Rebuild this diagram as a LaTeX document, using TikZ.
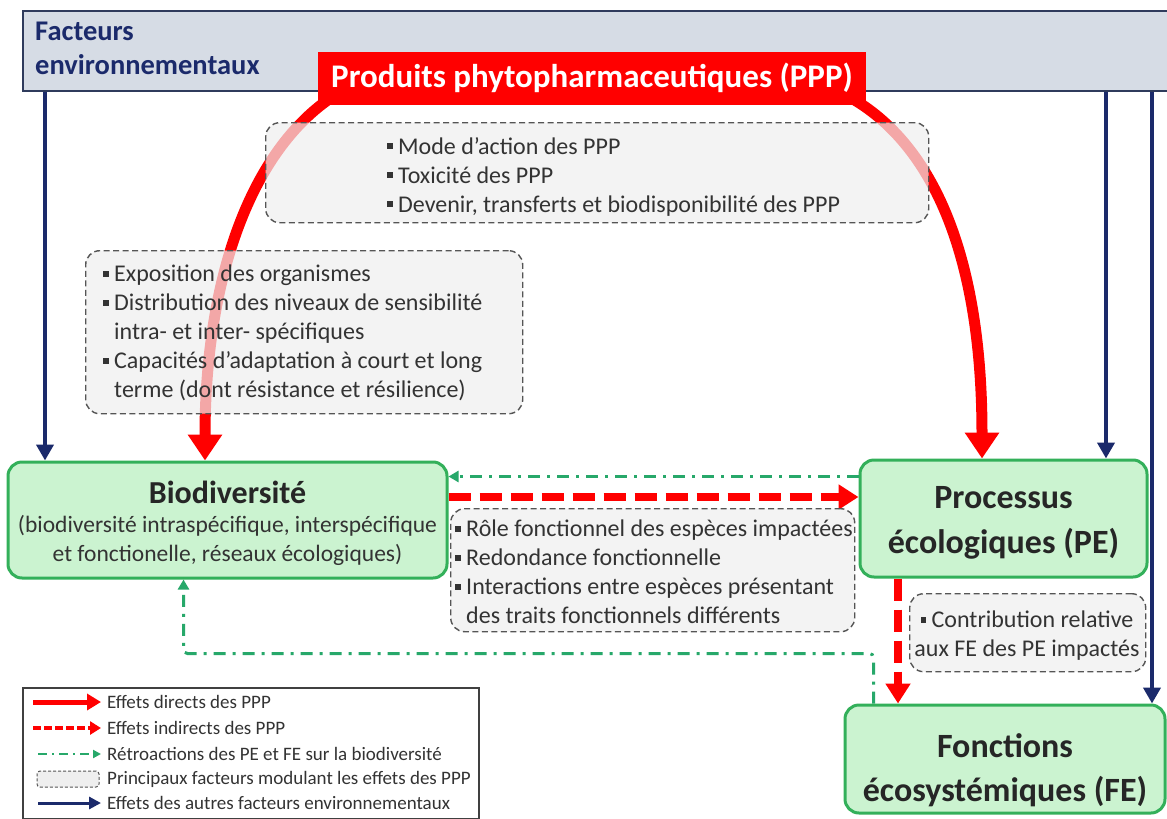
\documentclass[tikz,border=0pt]{standalone}
\usepackage{fontspec}
\setmainfont{Carlito}
\usetikzlibrary{arrows.meta,calc}
\definecolor{navy}{HTML}{1B2A6B}
\definecolor{pppred}{HTML}{FF0000}
\definecolor{gbord}{HTML}{33B05A}
\definecolor{gfill}{HTML}{CBF3D0}
\definecolor{fbgreen}{HTML}{27A86A}
\definecolor{envfill}{HTML}{D6DCE5}
\definecolor{envbord}{HTML}{2F3B5C}
\definecolor{mgray}{HTML}{555555}
\definecolor{mfill}{HTML}{EFEFEF}
\definecolor{txt}{HTML}{333333}
\newcommand\bsq{\makebox[11pt][l]{\rule[0.22em]{0.24em}{0.24em}}}
\newcommand\bcont{\hspace*{11pt}}
\tikzset{
  greenbox/.style={draw=gbord, line width=3pt, fill=gfill, rounded corners=14pt},
  modbox/.style={draw=mgray, dash pattern=on 6pt off 3.5pt, line width=1.4pt, fill=mfill, fill opacity=0.7, rounded corners=14pt},
  modtext/.style={align=left, text=txt, font=\fontsize{24}{29}\selectfont, inner sep=0pt, anchor=north west},
  navyarrow/.style={draw=navy, line width=4.5pt, -{Triangle[width=17pt,length=16pt]}},
  directarrow/.style={draw=pppred, line width=11pt, -{Triangle[width=33pt,length=26pt]}},
  indirectarrow/.style={draw=pppred, line width=8pt, dash pattern=on 22pt off 9pt, -{Triangle[width=24pt,length=20pt]}},
  fbarrow/.style={draw=fbgreen, line width=3pt, dash pattern=on 12pt off 7pt on 3pt off 7pt, -{Triangle[width=11pt,length=10pt]}},
  legtext/.style={anchor=west, text=txt, font=\fontsize{19}{21}\selectfont, inner sep=0pt},
}
\begin{document}
\begin{tikzpicture}[x=1pt,y=-1pt]
\useasboundingbox (0,0) rectangle (1167,819);
\fill[white] (0,0) rectangle (1167,819);

% environmental factors band
\node[draw=envbord, line width=1.5pt, fill=envfill, minimum width=1160pt, minimum height=80pt, anchor=north west, inner sep=0pt] (env) at (22,10) {};
\node[anchor=north west, align=left, text=navy, font=\bfseries\fontsize{28.5}{34}\selectfont, inner sep=0pt] (envt) at (35,22) {Facteurs\\environnementaux};

% main nodes
\node[greenbox, minimum width=439pt, minimum height=116pt] (bio) at (227.5,520) {};
\node[text=black!85, font=\bfseries\fontsize{32}{36}\selectfont, inner sep=0pt] (biot) at (227.5,492) {Biodiversité};
\node[text=txt, align=center, font=\fontsize{23.5}{29}\selectfont, inner sep=0pt] (bios) at (227.5,540) {(biodiversité intraspécifique, interspécifique\\et fonctionelle, réseaux écologiques)};

\node[greenbox, minimum width=287pt, minimum height=117pt] (pe) at (1003.5,518.5) {};
\node[text=black!85, align=center, font=\bfseries\fontsize{34}{45}\selectfont, inner sep=0pt] (pet) at (1003.5,523) {Processus\\écologiques (PE)};

\node[greenbox, minimum width=320pt, minimum height=108pt] (fe) at (1005,759) {};
\node[text=black!85, align=center, font=\bfseries\fontsize{34}{44}\selectfont, inner sep=0pt] (fet) at (1005,770) {Fonctions\\écosystémiques (FE)};

% PPP node (named, used as arc origin)
\node[minimum width=548pt, minimum height=53pt, inner sep=0pt] (ppp) at (592,76.5) {};

% direct effects arcs
\draw[directarrow] ([xshift=17pt,yshift=8pt]ppp.south west) .. controls (250,150) and (205,280) .. ([xshift=-22.5pt]bio.north);
\draw[directarrow] ([xshift=-20pt,yshift=8pt]ppp.south east) .. controls (930,140) and (982,250) .. ([xshift=-21.5pt]pe.north);

% PPP box on top
\node[fill=pppred, minimum width=548pt, minimum height=53pt, inner sep=0pt, text=white, font=\bfseries\fontsize{33}{36}\selectfont] (pppt) at (592,78) {Produits phytopharmaceutiques (PPP)};

% navy arrows
\draw[navyarrow] ([xshift=-182.5pt]bio.north |- env.south) -- ([xshift=-182.5pt]bio.north);
\draw[navyarrow] ([xshift=102.5pt]pe.north |- env.south) -- ([xshift=102.5pt]pe.north);
\draw[navyarrow] ([xshift=147pt]fe.north |- env.south) -- ([xshift=147pt]fe.north);

% indirect effects
\draw[indirectarrow] ([yshift=23pt]bio.east) -- ([yshift=23pt]bio.east -| pe.west);
\draw[indirectarrow] ([xshift=-105.5pt]pe.south) -- ([xshift=-105.5pt]pe.south |- fe.north);

% feedbacks
\draw[fbarrow] ([yshift=42pt]pe.west) -- ([yshift=42pt]pe.west -| bio.east);
\draw[fbarrow, rounded corners=4pt] ([xshift=30pt]fe.north west) |- ([xshift=-44pt,yshift=-74pt]bio.south) -- ([xshift=-44pt]bio.south);

% modulating factor boxes
\node[modbox, minimum width=663pt, minimum height=100pt, anchor=north west] (m1) at (265,122) {};
\node[modtext] (m1t) at (387,137) {\bsq Mode d’action des PPP\\\bsq Toxicité des PPP\\\bsq Devenir, transferts et biodisponibilité des PPP};

\node[modbox, minimum width=437pt, minimum height=163pt, anchor=north west] (m2) at (85,250) {};
\node[modtext] (m2t) at (103,265) {\bsq Exposition des organismes\\\bsq Distribution des niveaux de sensibilité\\\bcont intra- et inter- spécifiques\\\bsq Capacités d’adaptation à court et long\\\bcont terme (dont résistance et résilience)};

\node[modbox, minimum width=404pt, minimum height=123pt, anchor=north west] (m3) at (450,508) {};
\node[modtext] (m3t) at (455,520) {\bsq Rôle fonctionnel des espèces impactées\\\bsq Redondance fonctionnelle\\\bsq Interactions entre espèces présentant\\\bcont des traits fonctionnels différents};

\node[modbox, minimum width=236pt, minimum height=78pt, anchor=north west] (m4) at (909,593) {};
\node[modtext, align=center, anchor=center] (m4t) at (1027,636) {\bsq Contribution relative\\aux FE des PE impactés};

% legend
\node[draw=black!75, line width=1.5pt, fill=white, minimum width=456pt, minimum height=131pt, anchor=north west, inner sep=0pt] (leg) at (22,687) {};
\coordinate (l1a) at (33,702); \coordinate (l1b) at (101,702);
\coordinate (l2a) at (33,728); \coordinate (l2b) at (101,728);
\coordinate (l3a) at (38,754); \coordinate (l3b) at (101,754);
\coordinate (l5a) at (38,803); \coordinate (l5b) at (101,803);
\draw[draw=pppred, line width=5pt, -{Triangle[width=16pt,length=14pt]}] (l1a) -- (l1b);
\draw[draw=pppred, line width=4pt, dash pattern=on 8pt off 3pt, -{Triangle[width=13pt,length=11pt]}] (l2a) -- (l2b);
\draw[draw=fbgreen, line width=2pt, dash pattern=on 9pt off 5pt on 2pt off 5pt, -{Triangle[width=8pt,length=8pt]}] (l3a) -- (l3b);
\node[draw=mgray, dash pattern=on 3pt off 2pt, line width=1pt, fill=mfill, rounded corners=3pt, minimum width=62pt, minimum height=16pt, inner sep=0pt] (l4) at (68,779) {};
\draw[draw=navy, line width=3pt, -{Triangle[width=12pt,length=12pt]}] (l5a) -- (l5b);
\node[legtext] (t1) at (107,702) {Effets directs des PPP};
\node[legtext] (t2) at (107,728) {Effets indirects des PPP};
\node[legtext] (t3) at (107,754) {Rétroactions des PE et FE sur la biodiversité};
\node[legtext] (t4) at (107,779) {Principaux facteurs modulant les effets des PPP};
\node[legtext] (t5) at (107,803) {Effets des autres facteurs environnementaux};
\end{tikzpicture}
\end{document}
